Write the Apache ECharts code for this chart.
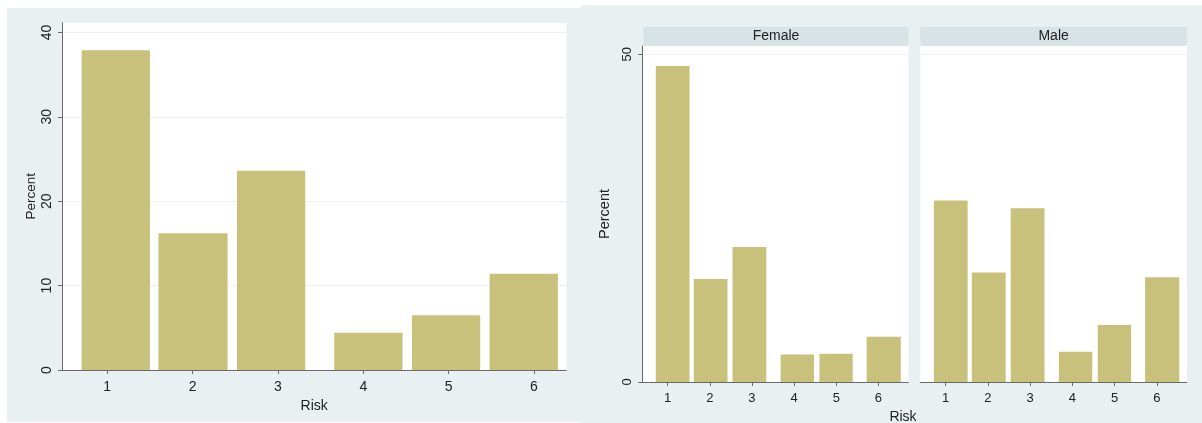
<!DOCTYPE html>
<html><head><meta charset="utf-8">
<script src="https://cdn.jsdelivr.net/npm/echarts@6/dist/echarts.min.js"></script>
<style>html,body{margin:0;padding:0;background:#fff}#c{width:1202px;height:423px}</style>
</head><body><div id="c"></div>
<script>
// ---- data ----
const risk = [1, 2, 3, 4, 5, 6];
const overallPct = [37.9, 16.2, 23.6, 4.4, 6.5, 11.4];
const femalePct = [48.2, 15.7, 20.6, 4.2, 4.3, 6.9];
const malePct = [27.7, 16.7, 26.5, 4.6, 8.7, 16.0];
// histogram bin edges (in Risk units)
const overallBinLo = [0.70, 1.60, 2.52, 3.66, 4.57, 5.48];
const overallBinHi = [1.50, 2.41, 3.32, 4.46, 5.37, 6.28];
const byBinLo = [0.72, 1.62, 2.54, 3.68, 4.60, 5.72];
const byBinHi = [1.52, 2.42, 3.34, 4.47, 5.39, 6.53];
const leftYTicks = [0, 10, 20, 30, 40];
const rightYTicks = [0, 50];
const panels = ['Female', 'Male'];

// ---- styling ----
const FONT = '"Liberation Sans", Arial, sans-serif';
const BAR = '#c8c17c';
const AX = '#6a6a6a';
const GRIDC = '#ebf0f2';
const BG = '#e8f0f2';
const STRIP = '#d8e3e8';
const TXT = '#222';

function binData(lo, hi, v) { return v.map((y, i) => [lo[i], hi[i], y, risk[i]]); }
function barSeries(idx, data) {
  return {
    type: 'custom', xAxisIndex: idx, yAxisIndex: idx, data,
    encode: { x: [0, 1], y: 2 },
    renderItem(params, api) {
      const a = api.coord([api.value(0), api.value(2)]);
      const b = api.coord([api.value(1), 0]);
      return { type: 'rect', shape: { x: a[0], y: a[1], width: b[0] - a[0], height: b[1] - a[1] },
               style: { fill: BAR } };
    }
  };
}
function xAx(idx, min, max, name, nameGap, fs) {
  return {
    type: 'value', gridIndex: idx, min, max,
    name, nameLocation: 'middle', nameGap,
    nameTextStyle: { fontFamily: FONT, fontSize: 14, color: TXT },
    axisLine: { show: true, onZero: false, lineStyle: { color: AX, width: 1 } },
    axisTick: { show: true, length: 4, customValues: risk, lineStyle: { color: AX } },
    axisLabel: { customValues: risk, fontFamily: FONT, fontSize: fs, color: TXT, margin: 10 },
    splitLine: { show: false }
  };
}
function yAx(idx, max, ticks, interval, showAxis, name, nameGap, nameSize, fs) {
  return {
    type: 'value', gridIndex: idx, min: 0, max, interval,
    name, nameLocation: 'middle', nameGap,
    nameTextStyle: { fontFamily: FONT, fontSize: nameSize, color: TXT },
    axisLine: { show: showAxis, lineStyle: { color: AX, width: 1 } },
    axisTick: { show: showAxis, length: 4, customValues: ticks, lineStyle: { color: AX } },
    axisLabel: { show: showAxis, customValues: ticks, rotate: 90, fontFamily: FONT, fontSize: fs, color: TXT, margin: 8 },
    splitLine: { show: true, lineStyle: { color: GRIDC, width: 1 } }
  };
}

const chart = echarts.init(document.getElementById('c'), null, { renderer: 'canvas' });
const gridBase = { show: true, backgroundColor: '#fff', borderWidth: 0, containLabel: false };
chart.setOption({
  backgroundColor: '#fff',
  animation: false,
  graphic: [
    { type: 'rect', z: -10, shape: { x: 7, y: 8, width: 574, height: 414 }, style: { fill: BG } },
    { type: 'rect', z: -10, shape: { x: 581, y: 5, width: 621, height: 418 }, style: { fill: BG } },
    { type: 'rect', z: -5, shape: { x: 643.5, y: 26.7, width: 264.9, height: 19.3 }, style: { fill: STRIP } },
    { type: 'rect', z: -5, shape: { x: 920.3, y: 26.7, width: 266.6, height: 19.3 }, style: { fill: STRIP } },
    { type: 'text', z: 10, x: 776, y: 36.5, style: { text: panels[0], align: 'center', verticalAlign: 'middle', fontFamily: FONT, fontSize: 14, fill: TXT } },
    { type: 'text', z: 10, x: 1053.6, y: 36.5, style: { text: panels[1], align: 'center', verticalAlign: 'middle', fontFamily: FONT, fontSize: 14, fill: TXT } },
    { type: 'text', z: 10, x: 903, y: 417, style: { text: 'Risk', align: 'center', verticalAlign: 'middle', fontFamily: FONT, fontSize: 14, fill: TXT } }
  ],
  grid: [
    Object.assign({ left: 62, top: 22.7, width: 504.4, height: 347.3 }, gridBase),
    Object.assign({ left: 642.3, top: 46, width: 266.1, height: 336 }, gridBase),
    Object.assign({ left: 920.3, top: 46, width: 266.6, height: 336 }, gridBase)
  ],
  xAxis: [
    xAx(0, 0.47, 6.38, 'Risk', 25, 14),
    xAx(1, 0.40, 6.71, '', 25, 13),
    xAx(2, 0.40, 6.71, '', 25, 13)
  ],
  yAxis: [
    yAx(0, 41.15, leftYTicks, 10, true, 'Percent', 24, 13.5, 14),
    yAx(1, 51.27, rightYTicks, 50, true, 'Percent', 30, 14.5, 13),
    yAx(2, 51.27, rightYTicks, 50, false, '', 0, 14, 13)
  ],
  series: [
    barSeries(0, binData(overallBinLo, overallBinHi, overallPct)),
    barSeries(1, binData(byBinLo, byBinHi, femalePct)),
    barSeries(2, binData(byBinLo, byBinHi, malePct))
  ]
});
</script></body></html>
